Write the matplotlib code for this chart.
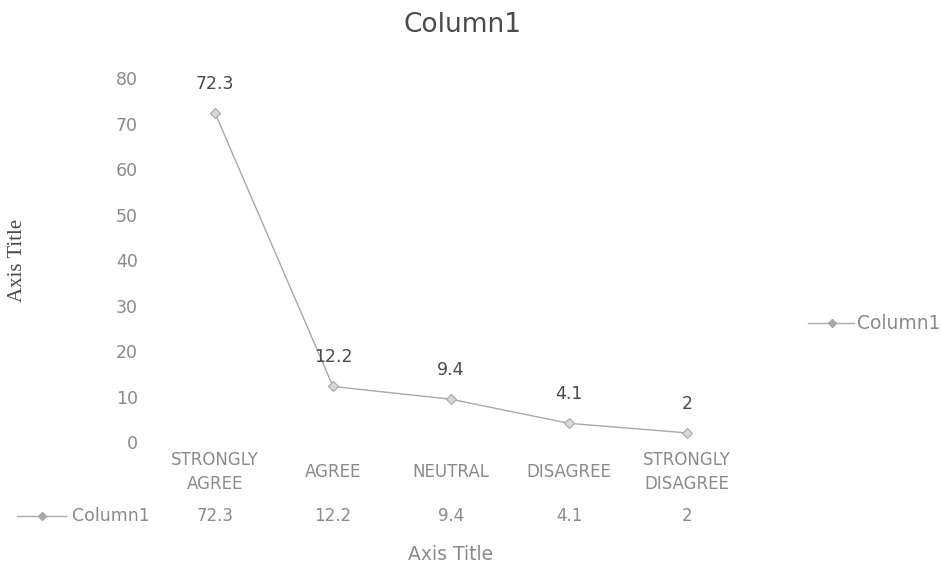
import matplotlib.pyplot as plt
from matplotlib.lines import Line2D

categories = ["STRONGLY\nAGREE", "AGREE", "NEUTRAL", "DISAGREE", "STRONGLY\nDISAGREE"]
values = [72.3, 12.2, 9.4, 4.1, 2]
value_labels = ["72.3", "12.2", "9.4", "4.1", "2"]
yticks = [0, 10, 20, 30, 40, 50, 60, 70, 80]
series_name = "Column1"

line_col = "#a8a8a8"
tick_col = "#8a8a8a"
lab_col = "#4a4a4a"

fig = plt.figure(figsize=(9.41, 5.69), dpi=100)
ax = fig.add_axes([0.1658, 0.2232, 0.627, 0.6397])

x = list(range(len(values)))
ax.plot(x, values, color=line_col, lw=1.0, marker="D", ms=5,
        mfc="#d8d8d8", mec=line_col, mew=0.8)

for xi, v, t in zip(x, values, value_labels):
    ax.annotate(t, (xi, v), xytext=(0, 21), textcoords="offset points",
                ha="center", va="center", fontsize=12.5, color=lab_col)

ax.set_xlim(-0.5, len(values) - 0.5)
ax.set_ylim(0, 80)
ax.set_yticks(yticks)
ax.set_yticklabels([str(t) for t in yticks], color=tick_col, fontsize=12.5)
ax.set_xticks([])
ax.tick_params(length=0, axis="y", pad=13)
for s in ax.spines.values():
    s.set_visible(False)

trans = ax.get_xaxis_transform()
# category labels, centred vertically like Excel
for xi, c in zip(x, categories):
    ax.text(xi, -0.082, c, transform=trans, ha="center", va="center",
            fontsize=12, color=tick_col, linespacing=1.45)

# data table row under the categories
row_y = -0.203
for xi, t in zip(x, value_labels):
    ax.text(xi, row_y, t, transform=trans, ha="center", va="center",
            fontsize=12, color=tick_col)
ax.add_line(Line2D([-1.68, -1.47, -1.26], [row_y] * 3, transform=trans,
                   color=line_col, lw=1, marker="D", ms=4, markevery=[1],
                   clip_on=False))
ax.text(-1.21, row_y, series_name, transform=trans, ha="left", va="center",
        fontsize=12.5, color=tick_col)

ax.text(2, -0.31, "Axis Title", transform=trans, ha="center", va="center",
        fontsize=13.5, color=tick_col)
ax.set_ylabel("Axis Title", color=lab_col, fontsize=15, family="Liberation Serif")
ax.yaxis.set_label_coords(-0.218, 0.5)

fig.text(0.492, 0.956, "Column1", ha="center", va="center", fontsize=19, color=lab_col)

# legend on the right
fig.add_artist(Line2D([0.859, 0.884, 0.908], [0.432] * 3, color=line_col, lw=1,
                      marker="D", ms=4, markevery=[1]))
fig.text(0.911, 0.432, series_name, ha="left", va="center", fontsize=13.5, color=tick_col)

fig.savefig("out.png", dpi=100)
